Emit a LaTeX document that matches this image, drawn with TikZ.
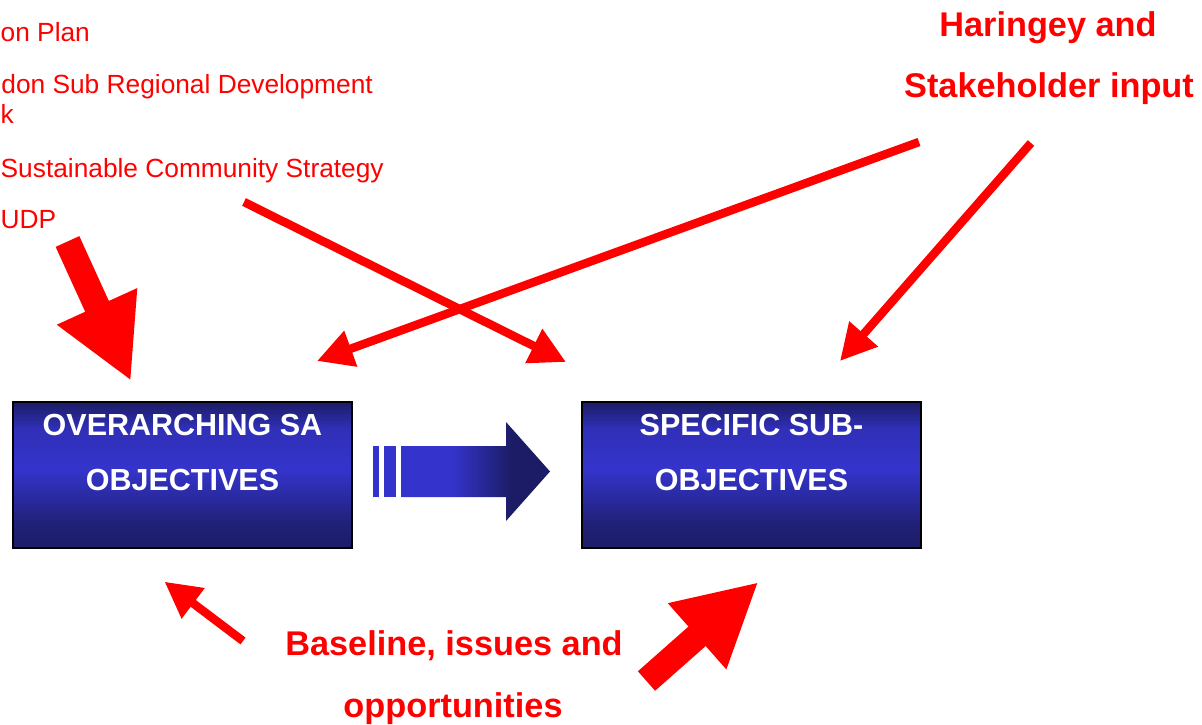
\documentclass[tikz,border=0pt]{standalone}
\usepackage{fontspec}
\setmainfont{Liberation Sans}
\usetikzlibrary{arrows.meta}
\definecolor{navy}{RGB}{28,28,102}
\definecolor{bright}{RGB}{52,52,204}
\definecolor{myred}{RGB}{255,0,0}
\pgfdeclarehorizontalshading{bluearrow}{100bp}{color(0bp)=(bright); color(25bp)=(bright); color(42bp)=(bright); color(62bp)=(navy); color(75bp)=(navy); color(100bp)=(navy)}
\pgfdeclareverticalshading{boxshade}{100bp}{color(0bp)=(navy); color(25bp)=(navy); color(34bp)=(navy!80!bright); color(52bp)=(bright); color(66bp)=(bright!80!navy); color(75bp)=(navy); color(100bp)=(navy)}
\tikzset{
  plaintext/.style={inner sep=0pt, text=myred, font=\fontsize{26.3}{30}\selectfont},
  boldtext/.style={inner sep=0pt, text=myred, font=\fontsize{34.3}{40}\selectfont\bfseries},
  boxtext/.style={inner sep=0pt, text=white, font=\fontsize{30.5}{36}\selectfont\bfseries},
  objbox/.style={draw=black, line width=2pt, shading=boxshade, minimum width=339pt, minimum height=146pt, inner sep=0pt},
  thinarrow/.style={draw=myred, line width=8.5pt, -{Triangle[length=36pt,width=36pt]}},
  bigarrow/.style={draw=myred, line width=26pt, -{Triangle[length=82pt,width=82pt]}},
}
\begin{document}
\begin{tikzpicture}[x=1pt,y=-1pt]
\useasboundingbox (0,0) rectangle (1202,725);
% left list texts
\node[plaintext, anchor=base west] (t1) at (0.5,42) {on Plan};
\node[plaintext, anchor=base east] (t2) at (373,93) {don Sub Regional Development};
\node[plaintext, anchor=base west] (t2b) at (0.5,123) {k};
\node[plaintext, anchor=base west] (t3) at (0.5,177) {Sustainable Community Strategy};
\node[plaintext, anchor=base west] (t4) at (0.5,228) {UDP};
% stakeholder text
\node[boldtext, anchor=base] (h1) at (1048,37) {Haringey and};
\node[boldtext, anchor=base] (h2) at (1049,97) {Stakeholder input};
% baseline text
\node[boldtext, anchor=base] (b1) at (454,655) {Baseline, issues and};
\node[boldtext, anchor=base] (b2) at (453,717) {opportunities};
% boxes
\node[objbox] (ov) at (182.5,475) {};
\node[objbox] (sp) at (751.5,475) {};
\node[boxtext, anchor=base] (ov1) at (182.5,435) {OVERARCHING SA};
\node[boxtext, anchor=base] (ov2) at (182.5,490) {OBJECTIVES};
\node[boxtext, anchor=base] (sp1) at (751.5,435) {SPECIFIC SUB-};
\node[boxtext, anchor=base] (sp2) at (751.5,490) {OBJECTIVES};
% blue block arrow
\fill[bright] (373,446) rectangle (379,497);
\fill[bright] (384,446) rectangle (396,497);
\shade[shading=bluearrow] (401,446) -- (506,446) -- (506,422) -- (550,471.5) -- (506,521) -- (506,497) -- (401,497) -- cycle;
% connector end points
\coordinate (udpS) at (67.5,241.5);
\coordinate (udpT) at (131,381);
\coordinate (aS) at (244,202);
\coordinate (aT) at (566,362);
\coordinate (bS) at (919,142);
\coordinate (bT) at (317,361);
\coordinate (cS) at (1031,143);
\coordinate (cT) at (840,361);
\coordinate (dS) at (243,641);
\coordinate (dT) at (164.5,581.7);
\coordinate (eS) at (646.5,681);
\coordinate (eT) at (758.5,582);
% red arrows
\draw[bigarrow] (udpS) -- (udpT);
\draw[thinarrow] (aS) -- (aT);
\draw[thinarrow] (bS) -- (bT);
\draw[thinarrow] (cS) -- (cT);
\draw[thinarrow] (dS) -- (dT);
\draw[bigarrow] (eS) -- (eT);
\end{tikzpicture}
\end{document}
